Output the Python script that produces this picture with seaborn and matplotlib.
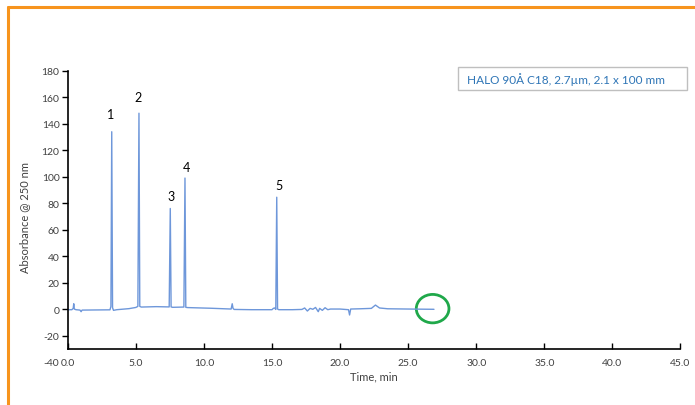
import matplotlib
matplotlib.use("Agg")
import matplotlib.pyplot as plt
import seaborn as sns
import pandas as pd
from matplotlib.lines import Line2D
from matplotlib.patches import Ellipse, Rectangle

# ---- data ----
time_min = [0.0, 0.30, 0.40, 0.44, 0.48, 0.60, 0.90, 0.98, 1.05, 2.0, 3.10, 3.17, 3.23, 3.29, 3.36,
            3.60, 4.50, 5.00, 5.15, 5.23, 5.29, 5.40, 6.50, 7.45, 7.53, 7.59, 7.70, 8.53, 8.61, 8.67,
            8.80, 10.5, 12.0, 12.08, 12.14, 12.22, 13.5, 15.0, 15.10, 15.20, 15.28, 15.35, 15.41,
            15.50, 16.5, 17.2, 17.4, 17.6, 17.8, 18.0, 18.2, 18.4, 18.5, 18.7, 18.9, 19.1, 19.3,
            20.0, 20.62, 20.70, 20.78, 21.5, 22.3, 22.6, 22.9, 23.5, 25.0, 26.9]
absorbance = [-0.5, -0.5, 0.5, 4.0, 0.0, -0.5, -0.8, -2.0, -0.8, -0.7, -0.6, 2.0, 134.0, 1.0, -1.0,
              -0.5, 0.3, 1.2, 2.0, 148.0, 2.0, 1.5, 1.8, 1.6, 76.0, 1.6, 1.3, 1.5, 99.0, 1.3,
              1.1, 0.6, 0.0, 4.0, 0.5, -0.3, -0.5, -0.5, 0.5, 0.8, -0.3, 84.5, 0.0,
              -0.5, -0.5, -0.3, 0.8, -1.5, 0.5, -0.2, 1.2, -2.0, 0.5, -1.0, 1.0, -0.5, 0.0,
              0.0, -0.5, -4.5, 0.0, 0.2, 0.5, 3.0, 0.8, 0.2, 0.0, -0.2]

peak_labels = ["1", "2", "3", "4", "5"]
peak_label_x = [3.11, 5.17, 7.58, 8.69, 15.52]
peak_label_y = [147.5, 160.4, 85.5, 107.4, 93.8]

x_ticks = [0, 5, 10, 15, 20, 25, 30, 35, 40, 45]
y_ticks = [-40, -20, 0, 20, 40, 60, 80, 100, 120, 140, 160, 180]
column_label = "HALO 90Å C18, 2.7µm, 2.1 x 100 mm"

df = pd.DataFrame({"Time": time_min, "Abs": absorbance})

sns.set_theme(style="white")
plt.rcParams['font.family'] = ['Lato', 'DejaVu Sans']

fig = plt.figure(figsize=(6.95, 4.06), dpi=100)
ax = fig.add_axes([0.0975, 0.106, 0.8815, 0.717])

sns.lineplot(data=df, x="Time", y="Abs", ax=ax, color="#6E97DA", linewidth=1.0,
             estimator=None, sort=False)

ax.set_xlim(0, 45)
ax.set_ylim(-40, 180)
ax.set_xticks(x_ticks)
ax.set_xticklabels([f"{v:.1f}" for v in x_ticks])
ax.set_yticks(y_ticks)
ax.set_yticklabels([str(v) for v in y_ticks])

for s in ["top", "right"]:
    ax.spines[s].set_visible(False)
ax.spines["bottom"].set_position(("data", -30))
ax.spines["left"].set_bounds(-30, 180)
for s in ["bottom", "left"]:
    ax.spines[s].set_color("black")
    ax.spines[s].set_linewidth(1.2)

ax.tick_params(axis="y", direction="out", length=4, width=1, color="black",
               labelsize=7.5, labelcolor="#404040", pad=2, left=True)
ax.tick_params(axis="x", direction="in", length=4, width=1, color="black",
               labelsize=7.5, labelcolor="#404040", pad=7, bottom=True)
# hide the tick mark for -40 (below the axis crossing)
for t in ax.yaxis.get_major_ticks():
    if abs(t.get_loc() + 40) < 1e-6:
        t.tick1line.set_visible(False)

ax.set_xlabel("Time, min", fontsize=8, color="#404040", labelpad=2)
ax.set_ylabel("Absorbance @ 250 nm", fontsize=8, color="#404040", labelpad=8)

for lab, lx, ly in zip(peak_labels, peak_label_x, peak_label_y):
    ax.text(lx, ly, lab, fontsize=9, color="black", ha="center", va="center")

# green circle marking the end of the run
ax.add_patch(Ellipse((26.8, 0.3), width=2.4, height=21.5, fill=False,
                     edgecolor="#1FA84A", linewidth=2.0, clip_on=False))

# column label box
fig.add_artist(Rectangle((458 / 695, 1 - 91 / 406), (687 - 458) / 695, (91 - 68) / 406,
                         transform=fig.transFigure, fill=False, edgecolor="#BFBFBF", linewidth=1.0))
fig.text(467 / 695, 1 - 80 / 406, column_label, fontsize=8.5, color="#2E75B6",
         ha="left", va="center")

# orange frame (top and left edges)
fig.add_artist(Line2D([8 / 695, 1.0], [1 - 8 / 406, 1 - 8 / 406], transform=fig.transFigure,
                      color="#F7941D", linewidth=2.2))
fig.add_artist(Line2D([8 / 695, 8 / 695], [1 - 8 / 406, 0.0], transform=fig.transFigure,
                      color="#F7941D", linewidth=2.2))

fig.savefig("out.png", dpi=100)
